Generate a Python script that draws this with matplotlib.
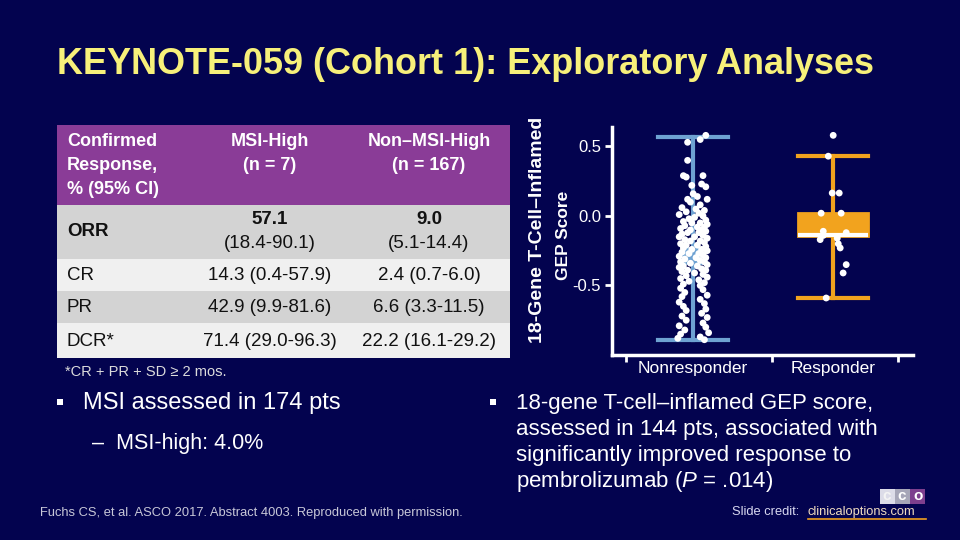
import matplotlib
matplotlib.use("Agg")
import matplotlib.pyplot as plt
from matplotlib import font_manager
from matplotlib.patches import Rectangle

# ---------------- data ----------------
title = "KEYNOTE-059 (Cohort 1): Exploratory Analyses"

header_col1 = ["Confirmed", "Response,", "% (95% CI)"]
header_col2 = ["MSI-High", "(n = 7)"]
header_col3 = ["Non\u2013MSI-High", "(n = 167)"]
row_labels = ["ORR", "CR", "PR", "DCR*"]
msi_high_vals = ["57.1\n(18.4-90.1)", "14.3 (0.4-57.9)", "42.9 (9.9-81.6)", "71.4 (29.0-96.3)"]
non_msi_vals = ["9.0\n(5.1-14.4)", "2.4 (0.7-6.0)", "6.6 (3.3-11.5)", "22.2 (16.1-29.2)"]
footnote = "*CR + PR + SD \u2265 2 mos."

categories = ["Nonresponder", "Responder"]
y_ticks = [0.5, 0.0, -0.5]

# Nonresponder GEP scores and horizontal jitter
nr_y = [0.58, 0.55, 0.53, 0.40, 0.29, 0.28, 0.29, 0.22, 0.23, 0.21, 0.16, 0.14, 0.12, 0.12, 0.10, 0.08,
        0.06, 0.05, 0.04, 0.03, 0.02, 0.01, 0.00, -0.01, -0.02, -0.03, -0.04, -0.05, -0.05, -0.06, -0.07,
        -0.08, -0.08, -0.09, -0.10, -0.10,
        -0.11, -0.12, -0.12, -0.13, -0.14, -0.15, -0.15, -0.16, -0.17, -0.18, -0.18, -0.19, -0.20, -0.21,
        -0.21, -0.22, -0.23, -0.24, -0.24, -0.25, -0.26, -0.27, -0.27, -0.28, -0.29, -0.30, -0.30,
        -0.31, -0.32, -0.33, -0.33, -0.34, -0.35, -0.36, -0.36, -0.37, -0.38, -0.39, -0.39, -0.40, -0.41,
        -0.42, -0.43, -0.44, -0.45, -0.46, -0.47, -0.48, -0.49, -0.50,
        -0.52, -0.53, -0.55, -0.57, -0.58, -0.60, -0.62, -0.63, -0.65, -0.67, -0.68, -0.70,
        -0.72, -0.73, -0.75, -0.77, -0.79, -0.80, -0.82, -0.84, -0.85, -0.87, -0.88, -0.89]
nr_jit = [0.09, 0.05, -0.04, -0.04, -0.07, -0.05, 0.07, -0.01, 0.06, 0.09, 0.00, 0.03, 0.10, -0.04, -0.02, 0.05,
          -0.08, 0.02, 0.08, -0.05, 0.04, -0.10, 0.07, 0.01, -0.03, 0.09, -0.07, 0.05, -0.01, 0.10, -0.06,
          0.03, 0.08, -0.09, 0.06, -0.02,
          0.09, -0.04, 0.04, -0.08, 0.07, 0.01, -0.10, 0.10, -0.06, 0.05, -0.02, 0.08, -0.09, 0.03,
          -0.05, 0.09, -0.07, 0.06, -0.01, 0.10, -0.08, 0.04, -0.03, 0.07, -0.10, 0.02, 0.09,
          -0.06, 0.05, -0.09, 0.08, -0.02, 0.10, -0.07, 0.03, -0.10, 0.06, -0.04, 0.09, -0.08, 0.01,
          0.07, -0.05, 0.10, -0.09, 0.04, -0.03, 0.08, -0.07, 0.05,
          -0.09, 0.07, -0.06, 0.10, -0.08, 0.05, -0.10, 0.08, -0.07, 0.09, -0.05, 0.06,
          -0.08, 0.10, -0.05, 0.07, -0.10, 0.09, -0.06, 0.11, -0.09, 0.05, -0.11, 0.08]

# Responder GEP scores and jitter
r_y = [0.58, 0.43, 0.165, 0.165, 0.02, 0.02, -0.11, -0.12, -0.14, -0.17, -0.16, -0.20, -0.23, -0.35, -0.41, -0.59]
r_jit = [0.0, -0.035, -0.007, 0.043, -0.086, 0.057, -0.071, 0.093, -0.071, -0.093, 0.029, 0.036, 0.05, 0.093, 0.071, -0.05]

# box statistics
nr_stats = dict(whislo=-0.89, q1=-0.34, med=-0.28, q3=-0.23, whishi=0.57)
r_stats = dict(whislo=-0.59, q1=-0.145, med=-0.14, q3=0.02, whishi=0.43)

left_bullet = "MSI assessed in 174 pts"
left_sub = "\u2013  MSI-high: 4.0%"
right_bullet_lines = ["18-gene T-cell\u2013inflamed GEP score,",
                      "assessed in 144 pts, associated with",
                      "significantly improved response to",
                      "pembrolizumab ($\\mathit{P}$ = .014)"]
citation = "Fuchs CS, et al. ASCO 2017. Abstract 4003. Reproduced with permission."

# ---------------- style ----------------
BG = "#03034f"
names = {f.name for f in font_manager.fontManager.ttflist}
base = "Liberation Sans" if "Liberation Sans" in names else "DejaVu Sans"
plt.rcParams['font.family'] = [base, 'DejaVu Sans']
plt.rcParams['mathtext.fontset'] = 'custom'
plt.rcParams['mathtext.it'] = base + ':italic'
plt.rcParams['mathtext.rm'] = base

fig = plt.figure(figsize=(9.6, 5.4), dpi=100, facecolor=BG)
ov = fig.add_axes([0, 0, 1, 1])
ov.set_xlim(0, 960)
ov.set_ylim(540, 0)
ov.axis("off")
ov.set_facecolor(BG)

# title
ov.text(57, 64, title, color="#f7f07a", fontsize=25.9, fontweight="bold", va="center", ha="left")

# table
x0, x1 = 57, 510
bounds = [125, 205, 259, 291, 323, 358]
fills = ["#8a3c97", "#d3d3d3", "#f0f0f0", "#d3d3d3", "#f0f0f0"]
for i in range(5):
    ov.add_patch(Rectangle((x0, bounds[i]), x1 - x0, bounds[i + 1] - bounds[i],
                           facecolor=fills[i], edgecolor="none"))
colx = [67, 270, 429]
for k, line in enumerate(header_col1):
    ov.text(colx[0], 142 + 23.5 * k, line, color="white", fontsize=13, fontweight="bold",
            ha="left", va="center")
for k, line in enumerate(header_col2):
    ov.text(colx[1], 142 + 23.5 * k, line, color="white", fontsize=13, fontweight="bold",
            ha="center", va="center")
for k, line in enumerate(header_col3):
    ov.text(colx[2], 142 + 23.5 * k, line, color="white", fontsize=13, fontweight="bold",
            ha="center", va="center")
txt = "#111111"
row_centers = [(bounds[i + 1] + bounds[i + 2]) / 2 for i in range(4)]
for i, lab in enumerate(row_labels):
    yc = row_centers[i] + (1 if i == 3 else 0)
    if i == 0:
        ov.text(colx[0], yc, lab, color=txt, fontsize=13.5, fontweight="bold", ha="left", va="center")
        for cx, val in ((colx[1], msi_high_vals[0]), (colx[2], non_msi_vals[0])):
            top, bottom = val.split("\n")
            ov.text(cx, yc - 12, top, color=txt, fontsize=13.5, fontweight="bold", ha="center", va="center")
            ov.text(cx, yc + 11, bottom, color=txt, fontsize=13.5, ha="center", va="center")
    else:
        ov.text(colx[0], yc, lab, color=txt, fontsize=13.5, ha="left", va="center")
        ov.text(colx[1], yc, msi_high_vals[i], color=txt, fontsize=13.5, ha="center", va="center")
        ov.text(colx[2], yc, non_msi_vals[i], color=txt, fontsize=13.5, ha="center", va="center")
ov.text(65, 372, footnote, color="#dcdcdc", fontsize=10.5, ha="left", va="center")

# bullets
ov.add_patch(Rectangle((57, 399), 6, 6, facecolor="white", edgecolor="none"))
ov.text(83, 403, left_bullet, color="white", fontsize=17, ha="left", va="center")
ov.text(92, 444, left_sub, color="white", fontsize=15.5, ha="left", va="center")
ov.add_patch(Rectangle((490, 399), 6, 6, facecolor="white", edgecolor="none"))
for k, line in enumerate(right_bullet_lines):
    ov.text(516, 403 + 26 * k, line, color="white", fontsize=16, ha="left", va="center")

ov.text(40, 513, citation, color="#c8c8d8", fontsize=9.3, ha="left", va="center")
ov.text(732, 512, "Slide credit: ", color="#d8d8f0", fontsize=9.3, ha="left", va="center")
ov.text(808, 512, "clinicaloptions.com", color="#f0dcc0", fontsize=9.3, ha="left", va="center")
ov.plot([808, 926], [519, 519], color="#f0a020", lw=1.2)
# logo
for k, c in enumerate(["#dcdce8", "#a6a6b8", "#7d3f8e"]):
    ov.add_patch(Rectangle((880 + 15 * k, 489), 15, 15, facecolor=c, edgecolor="none"))
ov.text(887, 496.5, "c", color="#f4f4f4", fontsize=11, ha="center", va="center", fontweight="bold")
ov.text(902, 496.5, "c", color="white", fontsize=11, ha="center", va="center", fontweight="bold")
ov.text(918, 496.5, "o", color="white", fontsize=11, ha="center", va="center", fontweight="bold")

# y-axis label
ov.text(537, 230, "18-Gene T-Cell\u2013Inflamed", color="white", fontsize=14, fontweight="bold",
        rotation=90, ha="center", va="center")
ov.text(563, 235, "GEP Score", color="white", fontsize=12.5, fontweight="bold",
        rotation=90, ha="center", va="center")

# ---------------- chart ----------------
ax = fig.add_axes([612 / 960, 1 - 355 / 540, (913 - 612) / 960, (355 - 127) / 540])
ax.set_facecolor("none")
ax.set_xlim(-0.58, 1.57)
ax.set_ylim(-1.0, 0.64)

blue = "#6ea2d2"
orange = "#f2a31e"
bp = ax.bxp([nr_stats, r_stats], positions=[0, 1], widths=[0.15, 0.5], capwidths=[0.5, 0.5],
            showfliers=False, patch_artist=True)
for j, col in enumerate([blue, orange]):
    bp["boxes"][j].set(facecolor=col, edgecolor=col, linewidth=2)
    bp["medians"][j].set(color=col if j == 0 else "white", linewidth=3 if j == 1 else 2)
    for w in bp["whiskers"][2 * j:2 * j + 2]:
        w.set(color=col, linewidth=3)
    for c in bp["caps"][2 * j:2 * j + 2]:
        c.set(color=col, linewidth=3)

ax.scatter([0 + d for d in nr_jit], nr_y, s=24, color="white", edgecolors="none", zorder=3)
ax.scatter([1 + d for d in r_jit], r_y, s=24, color="white", edgecolors="none", zorder=3)

ax.set_yticks(y_ticks)
ax.set_yticklabels(["0.5", "0.0", "-0.5"])
ax.set_xticks([0, 1])
ax.set_xticklabels(categories)
ax.set_xticks([-0.48, 0.56, 1.46], minor=True)
ax.tick_params(axis="y", colors="white", labelsize=12, length=5, width=2, pad=3)
ax.tick_params(axis="x", which="major", colors="white", labelsize=12.5, length=0, pad=4)
ax.tick_params(axis="x", which="minor", colors="white", length=5, width=2)
for s in ["top", "right"]:
    ax.spines[s].set_visible(False)
for s in ["left", "bottom"]:
    ax.spines[s].set_color("white")
    ax.spines[s].set_linewidth(2.5)

fig.savefig("out.png", dpi=100, facecolor=BG)
